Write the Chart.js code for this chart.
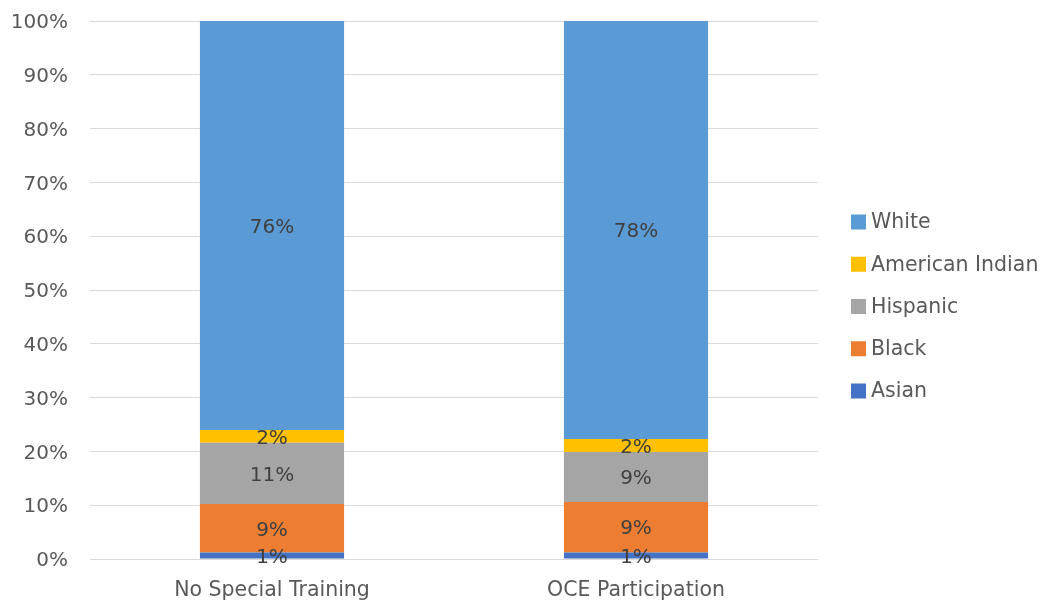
<!DOCTYPE html>
<html>
<head>
<meta charset="utf-8">
<script src="https://cdn.jsdelivr.net/npm/chart.js@4.4.0/dist/chart.umd.min.js"></script>
<style>
  html, body { margin: 0; padding: 0; background: #fff; }
  #wrap { width: 1044px; height: 601px; }
</style>
</head>
<body>
<div id="wrap"><canvas id="values" width="1044" height="601"></canvas></div>
<script>
var groups = ['No Special Training', 'OCE Participation'];

// share of each group, in percent
var asian = [1.2, 1.2];
var black = [9.0, 9.4];
var hispanic = [11.4, 9.3];
var americanIndian = [2.4, 2.4];
var white = [76.0, 77.7];

var yTicks = [0, 10, 20, 30, 40, 50, 60, 70, 80, 90, 100];

var FONT = '"DejaVu Sans"';
var GREY = '#595959';

// writes each segment's value in the middle of it
var segmentLabels = {
	id: 'segmentLabels',
	afterDatasetsDraw: function(chart) {
		var ctx = chart.ctx;
		ctx.save();
		ctx.font = '20px ' + FONT;
		ctx.fillStyle = '#404040';
		ctx.textAlign = 'center';
		ctx.textBaseline = 'middle';
		chart.data.datasets.forEach(function(ds, i) {
			var meta = chart.getDatasetMeta(i);
			meta.data.forEach(function(bar, j) {
				var p = bar.getProps(['x', 'y', 'base'], true);
				ctx.fillText(Math.round(ds.data[j]) + '%', p.x, (p.y + p.base) / 2 + 2);
			});
		});
		ctx.restore();
	}
};

// legend on the right, top series first
var sideLegend = {
	id: 'sideLegend',
	afterDraw: function(chart) {
		var ctx = chart.ctx;
		var items = chart.data.datasets.slice().reverse();
		var step = 42.25;
		var x = chart.chartArea.right + 33;
		var y0 = 306.5 - step * (items.length - 1) / 2;
		ctx.save();
		ctx.font = '20.5px ' + FONT;
		ctx.textAlign = 'left';
		ctx.textBaseline = 'middle';
		items.forEach(function(ds, i) {
			var y = y0 + i * step;
			ctx.fillStyle = ds.backgroundColor;
			ctx.fillRect(x, y - 7.5, 15, 15);
			ctx.fillStyle = GREY;
			ctx.fillText(ds.label, x + 20, y + 1);
		});
		ctx.restore();
	}
};

var chartdata = {
	labels: groups,
	datasets: [
		{ label: 'Asian', data: asian, backgroundColor: '#4472C4' },
		{ label: 'Black', data: black, backgroundColor: '#ED7D31' },
		{ label: 'Hispanic', data: hispanic, backgroundColor: '#A5A5A5' },
		{ label: 'American Indian', data: americanIndian, backgroundColor: '#FFC000' },
		{ label: 'White', data: white, backgroundColor: '#5B9BD5' }
	]
};

var barGraph = new Chart(document.getElementById('values'), {
	type: 'bar',
	data: chartdata,
	plugins: [segmentLabels, sideLegend],
	options: {
		responsive: false,
		animation: false,
		layout: { padding: { top: 21, right: 226, left: 0, bottom: 0 } },
		datasets: {
			bar: { barPercentage: 1, categoryPercentage: 0.396, borderWidth: 0 }
		},
		scales: {
			x: {
				stacked: true,
				grid: { display: false },
				border: { display: false },
				ticks: { color: GREY, font: { family: FONT, size: 20.5 }, padding: 11 },
				afterFit: function(s) {
					s.height = 42;
					s.paddingLeft = 0;
					s.paddingRight = 0;
				}
			},
			y: {
				stacked: true,
				min: 0,
				max: 100,
				afterBuildTicks: function(axis) {
					axis.ticks = yTicks.map(function(v) { return { value: v }; });
				},
				grid: { color: '#D9D9D9', lineWidth: 1, drawTicks: false },
				border: { display: false },
				ticks: {
					color: GREY,
					font: { family: FONT, size: 20 },
					padding: 22,
					labelOffset: 2,
					callback: function(v) { return v + '%'; }
				},
				afterFit: function(s) {
					s.width = 90;
					s.paddingTop = 0;
					s.paddingBottom = 0;
				}
			}
		},
		plugins: {
			tooltip: { enabled: false },
			legend: { display: false }
		}
	}
});
</script>
</body>
</html>
